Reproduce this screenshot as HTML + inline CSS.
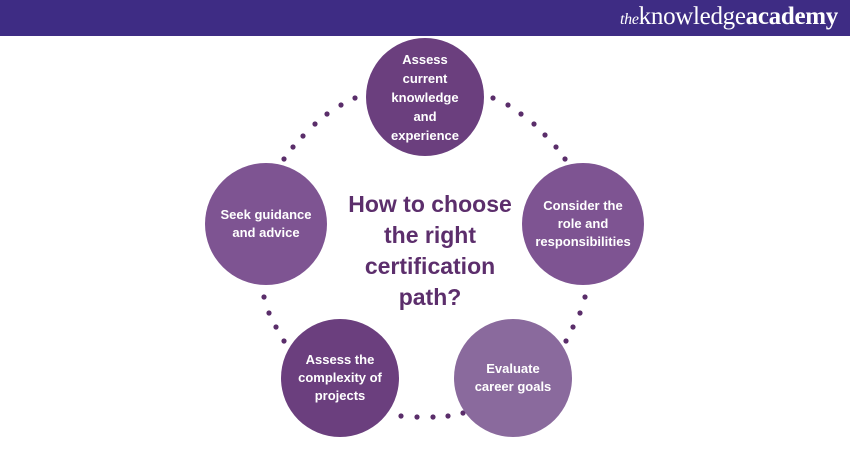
<!DOCTYPE html>
<html><head><meta charset="utf-8"><style>
html,body{margin:0;padding:0;width:850px;height:450px;overflow:hidden;background:#fff;font-family:"Liberation Sans",sans-serif}
.hdr{position:absolute;left:0;top:0;width:850px;height:36px;background:#3e2c84}
.logo{position:absolute;right:12px;top:3px;color:#fff;font-family:"Liberation Serif",serif;font-size:25px;letter-spacing:-0.3px}
.logo i{font-size:16px}
.c{position:absolute;border-radius:50%;display:flex;align-items:center;justify-content:center;text-align:center;color:#fff;font-weight:bold;font-size:13px;line-height:18px}
.t{position:absolute;left:330px;top:189px;width:200px;text-align:center;color:#5c2e6c;font-weight:bold;font-size:23px;line-height:31px}
</style></head><body>
<div class="hdr"><div class="logo"><i>the</i>knowledge<b>academy</b></div></div>
<svg width="850" height="450" style="position:absolute;left:0;top:0" fill="#5a2d6a">
<circle cx="284" cy="159" r="2.6"/><circle cx="293" cy="147" r="2.6"/><circle cx="303" cy="136" r="2.6"/><circle cx="315" cy="124" r="2.6"/><circle cx="327" cy="114" r="2.6"/><circle cx="341" cy="105" r="2.6"/><circle cx="355" cy="98" r="2.6"/>
<circle cx="493" cy="98" r="2.6"/><circle cx="508" cy="105" r="2.6"/><circle cx="521" cy="114" r="2.6"/><circle cx="534" cy="124" r="2.6"/><circle cx="545" cy="135" r="2.6"/><circle cx="556" cy="147" r="2.6"/><circle cx="565" cy="159" r="2.6"/>
<circle cx="264" cy="297" r="2.6"/><circle cx="269" cy="313" r="2.6"/><circle cx="276" cy="327" r="2.6"/><circle cx="284" cy="341" r="2.6"/>
<circle cx="585" cy="297" r="2.6"/><circle cx="580" cy="313" r="2.6"/><circle cx="573" cy="327" r="2.6"/><circle cx="566" cy="341" r="2.6"/>
<circle cx="401" cy="416" r="2.6"/><circle cx="417" cy="417" r="2.6"/><circle cx="433" cy="417" r="2.6"/><circle cx="448" cy="416" r="2.6"/><circle cx="463" cy="413" r="2.6"/>
</svg>
<div class="c" style="left:366px;top:38px;width:118px;height:118px;background:#6b3f7e;line-height:19px">Assess<br>current<br>knowledge<br>and<br>experience</div>
<div class="c" style="left:205px;top:163px;width:122px;height:122px;background:#7e5492">Seek guidance<br>and advice</div>
<div class="c" style="left:522px;top:163px;width:122px;height:122px;background:#7e5492">Consider the<br>role and<br>responsibilities</div>
<div class="c" style="left:281px;top:319px;width:118px;height:118px;background:#6b3f7e">Assess the<br>complexity of<br>projects</div>
<div class="c" style="left:454px;top:319px;width:118px;height:118px;background:#8a6a9d">Evaluate<br>career goals</div>
<div class="t">How to choose<br>the right<br>certification<br>path?</div>
</body></html>
